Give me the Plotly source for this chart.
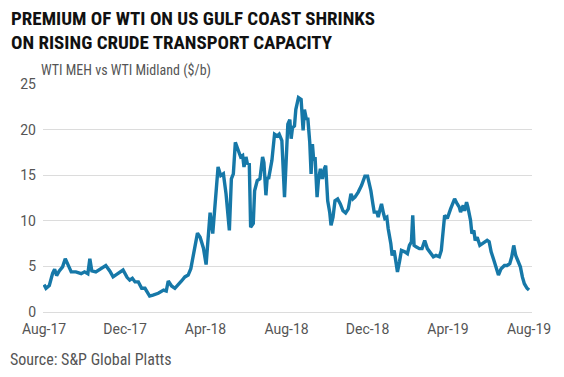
import plotly.graph_objects as go

dates = [
    "2017-08-01", "2017-08-04", "2017-08-09", "2017-08-14", "2017-08-17", "2017-08-20", "2017-08-24", "2017-08-29",
    "2017-09-02", "2017-09-06", "2017-09-11", "2017-09-18", "2017-09-26", "2017-10-01", "2017-10-06", "2017-10-09",
    "2017-10-12", "2017-10-18", "2017-10-26", "2017-11-02", "2017-11-08", "2017-11-13", "2017-11-20", "2017-11-25",
    "2017-11-28", "2017-12-04", "2017-12-08", "2017-12-12", "2017-12-16", "2017-12-21", "2017-12-26", "2017-12-31",
    "2018-01-03", "2018-01-07", "2018-01-12", "2018-01-20", "2018-01-28", "2018-02-01", "2018-02-04", "2018-02-09",
    "2018-02-14", "2018-02-19", "2018-02-24", "2018-03-01", "2018-03-06", "2018-03-10", "2018-03-14", "2018-03-20",
    "2018-03-24", "2018-03-29", "2018-04-02", "2018-04-05", "2018-04-08", "2018-04-12", "2018-04-15", "2018-04-20",
    "2018-04-24", "2018-04-28", "2018-05-02", "2018-05-07", "2018-05-10", "2018-05-13", "2018-05-16", "2018-05-20",
    "2018-05-24", "2018-05-27", "2018-05-29", "2018-06-01", "2018-06-03", "2018-06-06", "2018-06-08", "2018-06-12",
    "2018-06-14", "2018-06-18", "2018-06-22", "2018-06-26", "2018-06-28", "2018-07-01", "2018-07-03", "2018-07-05",
    "2018-07-08", "2018-07-10", "2018-07-14", "2018-07-18", "2018-07-21", "2018-07-25", "2018-07-29", "2018-08-01",
    "2018-08-03", "2018-08-06", "2018-08-08", "2018-08-10", "2018-08-13", "2018-08-15", "2018-08-19", "2018-08-23",
    "2018-08-26", "2018-08-28", "2018-08-31", "2018-09-02", "2018-09-05", "2018-09-07", "2018-09-09", "2018-09-11",
    "2018-09-13", "2018-09-16", "2018-09-18", "2018-09-21", "2018-09-24", "2018-09-27", "2018-09-29", "2018-10-02",
    "2018-10-05", "2018-10-07", "2018-10-10", "2018-10-13", "2018-10-17", "2018-10-21", "2018-10-25", "2018-10-29",
    "2018-11-02", "2018-11-06", "2018-11-09", "2018-11-12", "2018-11-17", "2018-11-22", "2018-11-27", "2018-12-01",
    "2018-12-04", "2018-12-06", "2018-12-09", "2018-12-11", "2018-12-15", "2018-12-17", "2018-12-20", "2018-12-22",
    "2018-12-25", "2018-12-27", "2018-12-30", "2019-01-01", "2019-01-05", "2019-01-07", "2019-01-10", "2019-01-12",
    "2019-01-15", "2019-01-18", "2019-01-21", "2019-01-26", "2019-01-30", "2019-02-02", "2019-02-05", "2019-02-07",
    "2019-02-09", "2019-02-12", "2019-02-17", "2019-02-21", "2019-02-25", "2019-03-01", "2019-03-05", "2019-03-10",
    "2019-03-14", "2019-03-19", "2019-03-22", "2019-03-25", "2019-03-27", "2019-03-31", "2019-04-03", "2019-04-05",
    "2019-04-08", "2019-04-11", "2019-04-15", "2019-04-18", "2019-04-20", "2019-04-24", "2019-04-26", "2019-04-29",
    "2019-05-01", "2019-05-05", "2019-05-07", "2019-05-10", "2019-05-12", "2019-05-15", "2019-05-19", "2019-05-23",
    "2019-05-26", "2019-05-30", "2019-06-02", "2019-06-05", "2019-06-09", "2019-06-13", "2019-06-16", "2019-06-20",
    "2019-06-25", "2019-06-29", "2019-07-03", "2019-07-06", "2019-07-09", "2019-07-12", "2019-07-15", "2019-07-19",
    "2019-07-22", "2019-07-25", "2019-07-29", "2019-08-01",
]

premium = [
    3.0, 2.6, 2.9, 4.25, 4.7, 4.0, 4.5, 4.95,
    5.85, 5.1, 4.4, 4.4, 4.2, 4.4, 4.2, 5.85,
    4.5, 4.4, 4.75, 5.1, 4.5, 3.85, 4.2, 4.4,
    4.6, 3.8, 3.5, 3.7, 3.3, 3.3, 2.6, 2.6,
    2.2, 1.75, 1.85, 2.05, 2.4, 2.3, 3.4, 2.85,
    2.6, 2.95, 3.4, 3.85, 4.05, 4.75, 6.4, 8.65,
    8.2, 7.0, 5.2, 8.0, 10.9, 8.6, 11.5, 15.9,
    14.95, 15.15, 12.95, 8.95, 14.6, 15.15, 18.6, 17.7,
    17.0, 17.15, 15.9, 17.0, 16.3, 16.2, 9.3, 9.7,
    13.3, 14.4, 14.6, 17.0, 16.4, 12.8, 14.8, 14.6,
    15.7, 16.6, 19.5, 19.3, 19.5, 18.8, 12.6, 18.2,
    20.6, 21.1, 19.0, 20.2, 20.4, 22.2, 23.5, 23.3,
    19.9, 22.2, 21.1, 21.3, 18.6, 15.15, 18.4, 16.6,
    17.0, 12.6, 14.4, 15.7, 14.6, 15.7, 16.05, 12.2,
    10.95, 9.5, 10.4, 12.2, 12.4, 11.85, 11.1, 10.85,
    11.3, 12.95, 12.4, 12.6, 13.15, 13.9, 14.9, 14.9,
    13.9, 13.3, 11.85, 10.95, 10.95, 10.4, 11.3, 11.85,
    10.8, 10.25, 10.4, 9.15, 7.5, 6.2, 6.75, 5.7,
    4.4, 5.5, 6.75, 6.6, 6.4, 7.3, 7.7, 10.6,
    7.3, 7.15, 6.95, 6.95, 7.85, 6.95, 6.6, 6.05,
    6.2, 6.05, 6.75, 8.6, 10.6, 10.25, 11.0, 11.3,
    11.85, 12.4, 11.85, 11.5, 10.95, 11.7, 11.1, 12.05,
    11.5, 10.05, 8.6, 8.95, 7.85, 8.2, 7.3, 7.5,
    7.7, 7.85, 7.7, 6.6, 5.7, 4.6, 4.05, 4.75,
    5.1, 5.1, 5.3, 6.05, 7.3, 6.2, 5.7, 4.95,
    3.85, 3.1, 2.6, 2.4,
]

x_tick_vals = ["2017-08-01", "2017-12-01", "2018-04-01", "2018-08-01",
               "2018-12-01", "2019-04-01", "2019-08-01"]
x_tick_text = ["Aug-17", "Dec-17", "Apr-18", "Aug-18", "Dec-18", "Apr-19", "Aug-19"]
y_tick_vals = [0, 5, 10, 15, 20, 25]

title_lines = ["PREMIUM OF WTI ON US GULF COAST SHRINKS",
               "ON RISING CRUDE TRANSPORT CAPACITY"]
subtitle = "WTI MEH vs WTI Midland ($/b)"
source = "Source: S&P Global Platts"

NARROW = "Liberation Sans Narrow, Roboto Condensed, Arial Narrow, sans-serif"
GREY = "#555555"

fig = go.Figure()
fig.add_trace(go.Scatter(
    x=dates, y=premium, mode="lines",
    line=dict(color="#1678a8", width=3.4),
    showlegend=False, hoverinfo="skip",
))

W, H = 564, 377
L, R, T, B = 43, 32, 84, 65
pw, ph = W - L - R, H - T - B


def px_x(px):
    return (px - L) / pw


def px_y(py):
    return (H - B - py) / ph


annotations = [
    dict(text=f"<b>{title_lines[0]}</b>", x=px_x(9), y=px_y(19), xanchor="left", yanchor="middle"),
    dict(text=f"<b>{title_lines[1]}</b>", x=px_x(9), y=px_y(42), xanchor="left", yanchor="middle"),
]
annotations = [dict(a, xref="paper", yref="paper", showarrow=False,
                    font=dict(family=NARROW, size=19, color="#111111")) for a in annotations]
annotations.append(dict(text=subtitle, x=px_x(39), y=px_y(71), xref="paper", yref="paper",
                        xanchor="left", yanchor="middle", showarrow=False,
                        font=dict(family=NARROW, size=14, color=GREY)))
annotations.append(dict(text=source, x=px_x(8), y=px_y(359), xref="paper", yref="paper",
                        xanchor="left", yanchor="middle", showarrow=False,
                        font=dict(family=NARROW, size=16, color=GREY)))

fig.update_layout(
    width=W, height=H,
    margin=dict(l=L, r=R, t=T, b=B, pad=0),
    paper_bgcolor="white", plot_bgcolor="white",
    annotations=annotations,
    xaxis=dict(
        type="date",
        range=["2017-07-30 12:00", "2019-08-05 12:00"],
        tickvals=x_tick_vals, ticktext=x_tick_text,
        showgrid=False, zeroline=False, showline=False, ticks="",
        ticklabelstandoff=7,
        tickfont=dict(family="Roboto, Arial, sans-serif", size=14, color=GREY),
    ),
    yaxis=dict(
        range=[0, 25],
        tickvals=y_tick_vals,
        showgrid=True, gridcolor="#dcdcdc", gridwidth=1,
        zeroline=True, zerolinecolor="#dcdcdc", zerolinewidth=1,
        showline=False, ticks="",
        ticklabelstandoff=6,
        tickfont=dict(family="Roboto, Arial, sans-serif", size=14, color=GREY),
    ),
)

fig.write_html("out.html", config={"displayModeBar": False},
               post_script="document.body.style.margin='0';document.body.style.overflow='hidden';")
